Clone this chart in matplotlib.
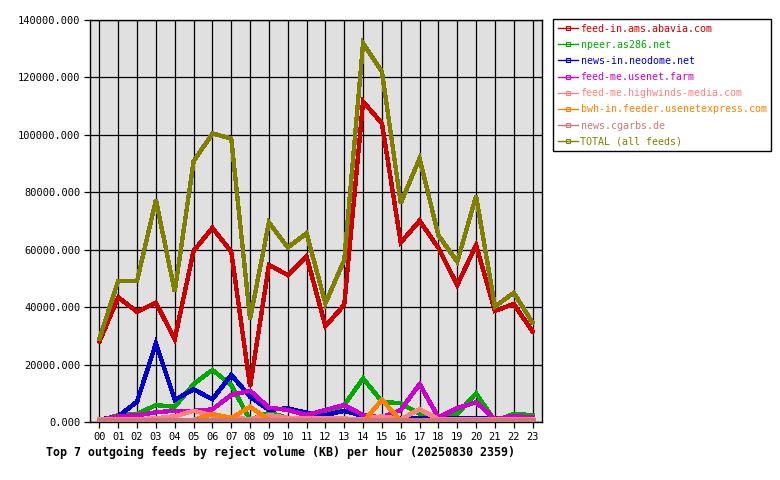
import matplotlib
matplotlib.use("Agg")
import matplotlib.pyplot as plt
from matplotlib.lines import Line2D
from matplotlib.ticker import MultipleLocator, FormatStrFormatter

hours = [f"{h:02d}" for h in range(24)]

feed_names = [
    "feed-in.ams.abavia.com",
    "npeer.as286.net",
    "news-in.neodome.net",
    "feed-me.usenet.farm",
    "feed-me.highwinds-media.com",
    "bwh-in.feeder.usenetexpress.com",
    "news.cgarbs.de",
    "TOTAL (all feeds)",
]
feed_colors = ["#cc0000", "#00aa00", "#0000cc", "#cc00cc",
               "#ff8080", "#ff8000", "#cc7777", "#808000"]

abavia = [28000, 43400, 38400, 41500, 28900, 59600, 67600, 59300, 12300, 54700, 51200, 57600,
          33400, 40800, 111600, 104000, 62500, 70100, 60600, 47700, 61600, 38700, 41100, 31500]
as286 = [500, 2400, 2800, 5900, 5300, 13200, 18100, 12900, 700, 3200, 1500, 1500,
         2800, 5900, 15200, 7100, 6500, 2800, 2100, 2800, 10000, 300, 2800, 2400]
neodome = [800, 2000, 7100, 27400, 7700, 11400, 7900, 16400, 8800, 4200, 4800, 3200,
           2400, 3900, 2100, 1600, 1500, 1500, 1500, 1500, 1500, 1200, 1200, 1800]
usenetfarm = [500, 2100, 2300, 3400, 3900, 3900, 4400, 9400, 10900, 5000, 4200, 2400,
              4200, 5900, 2400, 1600, 4200, 13200, 1600, 4800, 6900, 1000, 2100, 1600]
highwinds = [1000, 1000, 1000, 1300, 2000, 3900, 2300, 1500, 1000, 2400, 1500, 1200,
             1200, 1200, 1000, 2000, 1000, 4400, 1000, 1000, 1000, 1000, 1000, 1000]
usenetexpress = [0, 0, 0, 200, 500, 700, 2800, 1400, 5300, 800, 500, 300,
                 300, 300, 0, 7700, 500, 0, 0, 0, 0, 0, 0, 0]
cgarbs = [700, 700, 700, 700, 700, 700, 700, 700, 700, 700, 700, 700,
          700, 700, 700, 700, 700, 700, 700, 700, 700, 700, 700, 700]
total = [29000, 49200, 49200, 77300, 45400, 90700, 100500, 98700, 35900, 69500, 60800, 65700,
         41300, 56400, 131900, 122000, 76200, 91800, 65000, 55800, 78700, 40200, 45000, 34600]

series = [abavia, as286, neodome, usenetfarm, highwinds, usenetexpress, cgarbs, total]

plt.rcParams["font.family"] = "DejaVu Sans Mono"
plt.rcParams["font.size"] = 7.5

fig = plt.figure(figsize=(7.8, 4.8), dpi=100)
ax = fig.add_axes([90 / 780, 58 / 480, 452 / 780, 402 / 480])
ax.set_facecolor("#e0e0e0")

x = list(range(len(hours)))
for vals, col in zip(series, feed_colors):
    ax.plot(x, vals, color=col, lw=2.4, antialiased=False, solid_joinstyle="miter", zorder=3)

ax.set_xlim(-0.5, 23.5)
ax.set_ylim(0, 140000)
ax.set_xticks(x)
ax.set_xticklabels(hours)
ax.yaxis.set_major_locator(MultipleLocator(20000))
ax.yaxis.set_major_formatter(FormatStrFormatter("%.3f"))
ax.grid(True, color="black", lw=0.9, zorder=1)
ax.set_axisbelow(True)
for s in ax.spines.values():
    s.set_linewidth(1.0)
ax.tick_params(direction="out", length=4, width=0.9, colors="black", pad=3)

fig.text(46 / 780, 1 - 452 / 480,
         "Top 7 outgoing feeds by reject volume (KB) per hour (20250830 2359)",
         fontsize=8.4, fontweight="bold", va="center", ha="left")

handles = [Line2D([], [], color=c, lw=1, marker="s", markersize=2.5, mfc="none", mew=0.8)
           for c in feed_colors]
leg = fig.legend(handles, feed_names, loc="upper left", bbox_to_anchor=(553 / 780, 1 - 19 / 480),
                 frameon=True, fancybox=False, framealpha=1, edgecolor="black",
                 fontsize=7.2, handlelength=2.0, handletextpad=0.3, labelspacing=0.62,
                 borderpad=0.45, borderaxespad=0, labelcolor="linecolor")
leg.get_frame().set_linewidth(1.0)

fig.savefig("out.png", dpi=100)
